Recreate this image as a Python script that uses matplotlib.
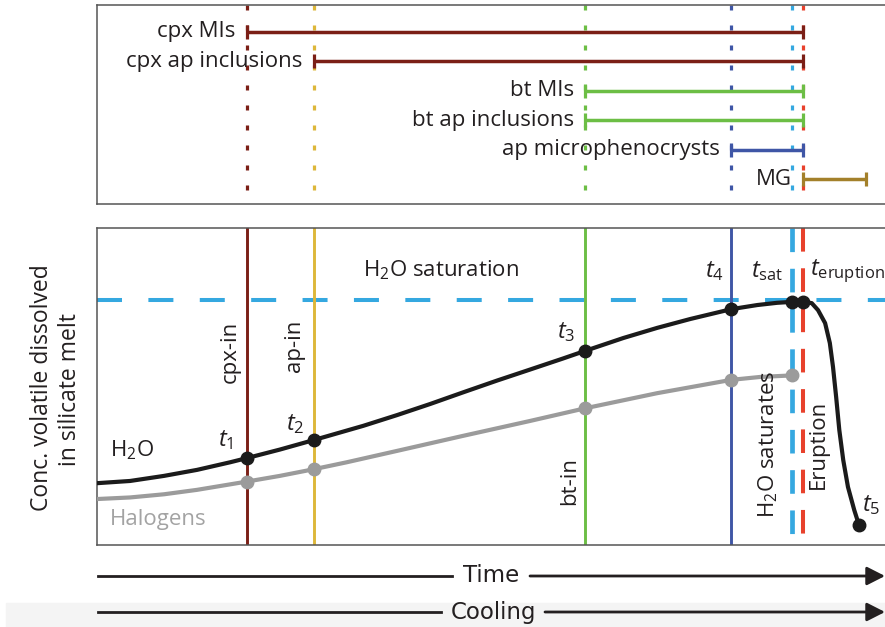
import matplotlib
matplotlib.use("Agg")
import matplotlib.pyplot as plt
from matplotlib.patches import Rectangle

plt.rcParams['font.family'] = ['Open Sans', 'DejaVu Sans']
plt.rcParams['mathtext.fontset'] = 'custom'
plt.rcParams['mathtext.rm'] = 'Open Sans'
plt.rcParams['mathtext.it'] = 'Open Sans:italic'
plt.rcParams['lines.scale_dashes'] = False

# ---------------- data ----------------
# event times (arbitrary time units, 0-100 across the panel)
t_cpx, t_ap, t_bt, t_apm, t_sat, t_erupt, t_mg_end = 19.0, 27.5, 61.9, 80.4, 88.2, 89.6, 97.6

# top panel: crystallisation / inclusion ranges
range_labels = ["cpx MIs", "cpx ap inclusions", "bt MIs", "bt ap inclusions",
                "ap microphenocrysts", "MG"]
range_start = [t_cpx, t_ap, t_bt, t_bt, t_apm, t_erupt]
range_end = [t_erupt, t_erupt, t_erupt, t_erupt, t_erupt, t_mg_end]

# bottom panel: dissolved H2O curve
h2o_time = [0.0, 4.2, 8.5, 12.7, 16.9, 19.0, 23.2, 27.5, 31.7, 33.8, 38.1, 42.3,
            46.4, 50.8, 54.9, 59.1, 61.9, 66.8, 71.1, 75.3, 80.5, 83.8, 86.3, 88.2,
            89.6, 90.7, 91.5, 92.4, 93.0, 93.4, 93.8, 94.2, 94.7, 95.3, 96.1, 96.7]
h2o_conc = [19.5, 20.2, 21.8, 23.7, 26.1, 27.4, 30.1, 33.1, 36.1, 37.6, 41.0, 44.5,
            48.1, 51.9, 55.3, 58.8, 61.2, 65.3, 68.5, 71.3, 74.4, 75.7, 76.4, 76.7,
            76.7, 76.3, 74.1, 70.0, 63.7, 56.2, 46.7, 36.3, 26.8, 18.3, 11.0, 6.3]
# marked points t1, t2, t3, t4, tsat, teruption, t5
h2o_pts_time = [19.0, 27.5, 61.9, 80.5, 88.2, 89.6, 96.7]
h2o_pts_conc = [27.4, 33.1, 61.2, 74.4, 76.7, 76.7, 6.3]

# halogens curve
hal_time = [0.0, 4.2, 8.5, 12.7, 19.0, 23.2, 27.5, 31.7, 38.1, 46.4, 54.9, 61.9,
            71.1, 80.5, 84.1, 88.2]
hal_conc = [14.5, 15.0, 16.0, 17.4, 20.0, 21.8, 23.9, 26.1, 29.7, 34.4, 39.1, 43.1,
            47.9, 52.1, 53.0, 53.5]
hal_pts_time = [19.0, 27.5, 61.9, 80.5, 88.2]
hal_pts_conc = [20.0, 23.9, 43.1, 52.1, 53.5]

h2o_saturation = 77.3

# ---------------- styling ----------------
C_CPX = '#7B1F16'
C_AP = '#DDB73A'
C_BT = '#6CBE45'
C_APM = '#3F56A6'
C_SAT = '#35A8E0'
C_ERU = '#E8412C'
C_MG = '#A3802A'
C_BLACK = '#1B1B1B'
C_GRAY = '#9B9B9B'
TXT = '#231F20'
range_colors = [C_CPX, C_CPX, C_BT, C_BT, C_APM, C_MG]
FS = 16

W, H = 885, 627
fig = plt.figure(figsize=(W / 100, H / 100), dpi=100)

# overlay for arrows / decorations (pixel coordinates)
ov = fig.add_axes([0, 0, 1, 1], zorder=-5)
ov.set_xlim(0, W)
ov.set_ylim(H, 0)
ov.axis('off')

def px_rect(l, t, r, b):
    return [l / W, 1 - b / H, (r - l) / W, (b - t) / H]

ax_top = fig.add_axes(px_rect(97, 5, 885, 204))
ax_bot = fig.add_axes(px_rect(97, 228, 885, 545))

for ax in (ax_top, ax_bot):
    ax.set_xlim(0, 100)
    ax.set_xticks([])
    ax.set_yticks([])
    for s in ('left', 'top', 'bottom'):
        ax.spines[s].set_color('#555555')
        ax.spines[s].set_linewidth(1.1)
    ax.spines['right'].set_visible(False)

# ---------------- top panel ----------------
ax_top.set_ylim(5.84, -0.905)
dot = (0, (3.6, 10.8))
vlines = [(t_cpx, C_CPX), (t_ap, C_AP), (t_bt, C_BT), (t_apm, C_APM),
          (t_sat, C_SAT), (t_erupt, C_ERU)]
for x, c in vlines:
    ax_top.plot([x, x], [-0.905, 5.84], color=c, lw=2.3, linestyle=dot, zorder=1)

for i, (lab, s, e, c) in enumerate(zip(range_labels, range_start, range_end, range_colors)):
    ax_top.plot([s, e], [i, i], color=c, lw=2.5, solid_capstyle='butt', zorder=3)
    ax_top.plot([s, e], [i, i], linestyle='none', marker='|', markersize=9.5,
                markeredgewidth=2.3, color=c, zorder=3)
    ax_top.annotate(lab, xy=(s, i), xytext=(-8, 0), textcoords='offset points',
                    ha='right', va='center', fontsize=FS, color=TXT)

# ---------------- bottom panel ----------------
ax_bot.set_ylim(0, 100)
ax_bot.plot([0, 100], [h2o_saturation, h2o_saturation], color=C_SAT, lw=2.9,
            linestyle=(0, (18, 19)), zorder=1)
for x, c in [(t_cpx, C_CPX), (t_ap, C_AP), (t_bt, C_BT), (t_apm, C_APM)]:
    ax_bot.plot([x, x], [0, 100], color=c, lw=2.1, zorder=2)
ax_bot.plot([t_sat, t_sat], [100, 0], color=C_SAT, lw=3.4,
            linestyle=(0, (17, 12)), zorder=2)
ax_bot.plot([t_erupt, t_erupt], [100, 0], color=C_ERU, lw=2.9,
            linestyle=(0, (17, 12)), zorder=2)

ax_bot.plot(hal_time, hal_conc, color=C_GRAY, lw=3.0, zorder=3,
            solid_joinstyle='round', solid_capstyle='round')
ax_bot.plot(hal_pts_time, hal_pts_conc, 'o', color=C_GRAY, ms=9, zorder=4)
ax_bot.plot(h2o_time, h2o_conc, color=C_BLACK, lw=3.0, zorder=5,
            solid_joinstyle='round', solid_capstyle='round')
ax_bot.plot(h2o_pts_time, h2o_pts_conc, 'o', color=C_BLACK, ms=9, zorder=6)

ax_bot.text(33.8, 86.8, 'H$_2$O saturation', fontsize=FS, color=TXT, ha='left', va='center')
ax_bot.text(16.9, 61.0, 'cpx-in', fontsize=FS, color=TXT, rotation=90, ha='center', va='center')
ax_bot.text(25.1, 62.8, 'ap-in', fontsize=FS, color=TXT, rotation=90, ha='center', va='center')
ax_bot.text(60.0, 20.2, 'bt-in', fontsize=FS, color=TXT, rotation=90, ha='center', va='center')
ax_bot.text(85.2, 31.9, 'H$_2$O saturates', fontsize=FS, color=TXT, rotation=90, ha='center', va='center')
ax_bot.text(91.6, 31.9, 'Eruption', fontsize=FS, color=TXT, rotation=90, ha='center', va='center')
ax_bot.text(1.6, 30.0, 'H$_2$O', fontsize=FS, color=TXT, ha='left', va='center')
ax_bot.text(1.6, 7.9, 'Halogens', fontsize=FS, color='#A3A3A3', ha='left', va='center')

tlabels = [(15.4, 33.1, '$t_1$'), (24.0, 38.2, '$t_2$'), (58.4, 67.2, '$t_3$'),
           (77.2, 86.4, '$t_4$'), (83.0, 86.4, '$t_{\\mathrm{sat}}$'),
           (90.5, 86.4, '$t_{\\mathrm{eruption}}$'), (97.1, 12.6, '$t_5$')]
for x, y, s in tlabels:
    ax_bot.text(x, y, s, fontsize=FS + 1, color=TXT, ha='left', va='center', clip_on=False)

# ---------------- y label ----------------
ov.text(42, 388, 'Conc. volatile dissolved', rotation=90, ha='center', va='center',
        fontsize=FS + 0.5, color=TXT)
ov.text(70, 390, 'in silicate melt', rotation=90, ha='center', va='center',
        fontsize=FS + 0.5, color=TXT)

# ---------------- arrows ----------------
ov.add_patch(Rectangle((6, 603), W - 6, H - 603, color='#F4F4F4', zorder=0))
for y, lab, l_end, r_start in [(576, 'Time', 452, 530), (612, 'Cooling', 441, 545)]:
    ov.plot([98, l_end], [y, y], color=TXT, lw=2.0, zorder=2)
    ov.annotate('', xy=(W, y), xytext=(r_start, y),
                arrowprops=dict(arrowstyle='-|>,head_length=0.55,head_width=0.28',
                                color=TXT, lw=2.0, shrinkA=0, shrinkB=0,
                                mutation_scale=20), zorder=2)
    ov.text((l_end + r_start) / 2, y, lab, ha='center', va='center', fontsize=16.5,
            color=TXT, family=['Liberation Sans Narrow', 'DejaVu Sans'], zorder=3)

fig.savefig('out.png', dpi=100)
